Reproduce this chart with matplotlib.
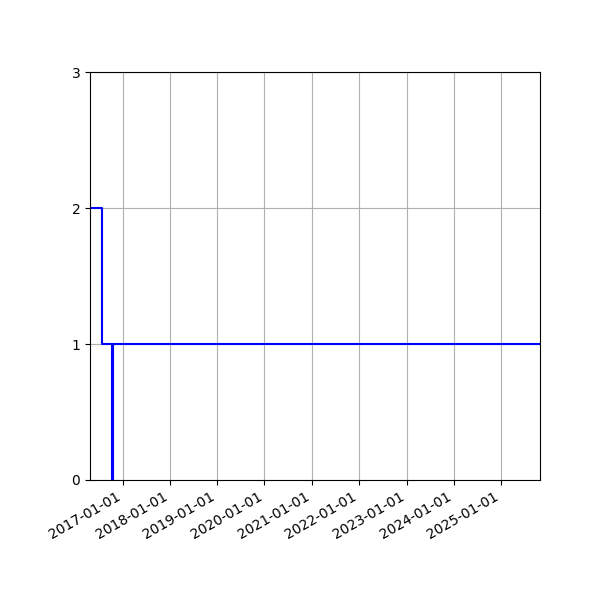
import numpy as np
import matplotlib
matplotlib.use("Agg")
import matplotlib.pyplot as plt
import matplotlib.dates as mdates

# step data
dates = np.array(["2016-04-25", "2016-07-30", "2016-10-15", "2016-10-18", "2025-10-27"],
                 dtype="datetime64[D]")
values = [2, 1, 0, 1, 1]

fig, ax = plt.subplots(figsize=(6, 6), dpi=100)
ax.plot(dates, values, color="blue", drawstyle="steps-post")
ax.set_xlim(dates[0], dates[-1])
ax.set_ylim(0, 3)
ax.set_yticks([0, 1, 2, 3])
ax.xaxis.set_major_locator(mdates.YearLocator())
ax.xaxis.set_major_formatter(mdates.DateFormatter("%Y-%m-%d"))
ax.grid(True)
fig.autofmt_xdate()
fig.subplots_adjust(left=0.15, right=0.9, top=0.88, bottom=0.2)
fig.savefig("out.png")
